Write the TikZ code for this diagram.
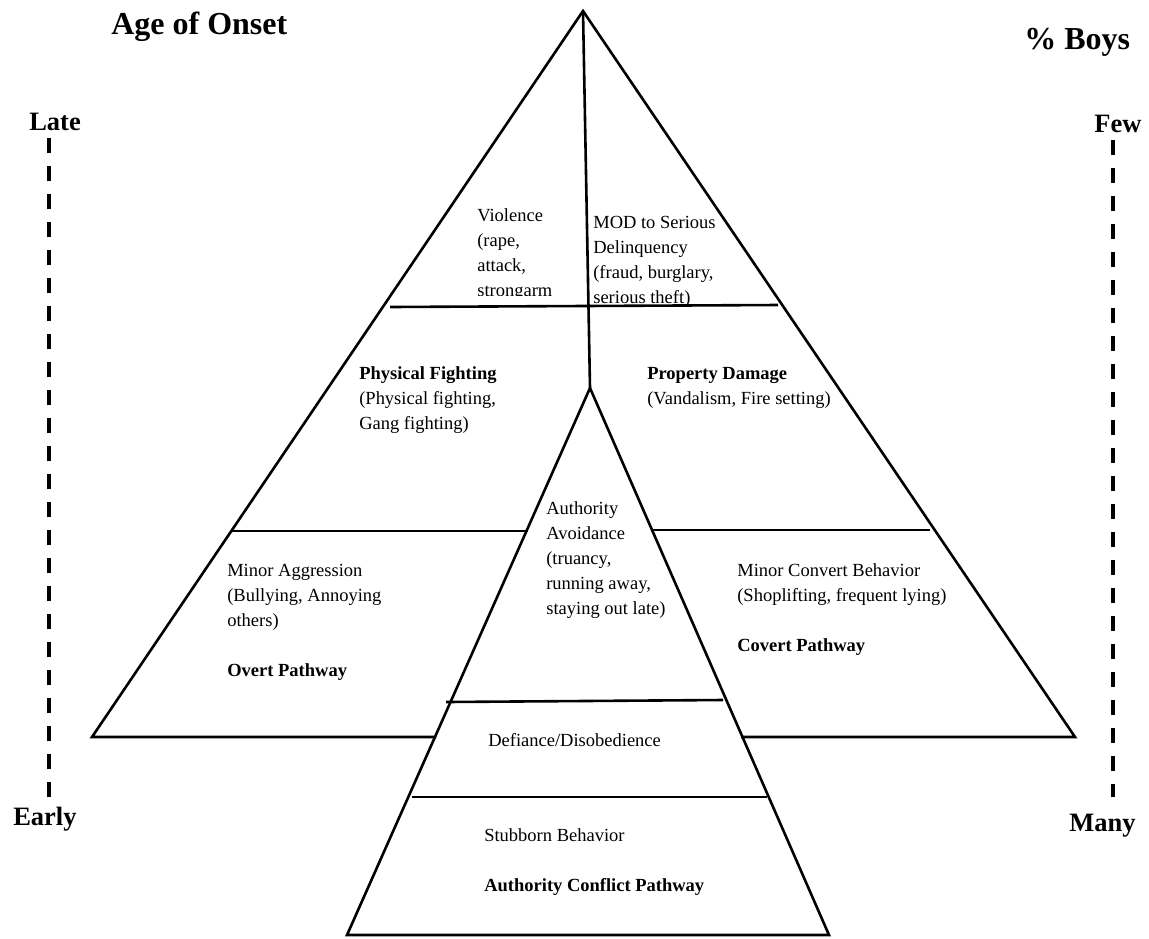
\documentclass[tikz,border=0pt]{standalone}
\usepackage{fontspec}
\setmainfont{Liberation Serif}
\usetikzlibrary{positioning}
\newcommand{\bodysize}{\fontsize{18.5}{25}\selectfont}

\begin{document}
\begin{tikzpicture}[x=1pt,y=-1pt,line width=2.6pt,line join=miter,
  txt/.style={anchor=north west,inner sep=0pt,align=left,font=\bodysize},
  hd/.style={anchor=base west,inner sep=0pt,font=\fontsize{32}{36}\selectfont\bfseries},
  side/.style={anchor=base west,inner sep=0pt,font=\fontsize{26.5}{30}\selectfont\bfseries},
  axisline/.style={line width=4pt,dash pattern=on 15pt off 13pt}]
\useasboundingbox (0,0) rectangle (1149,938);
% headings and scales
\node[hd] (onset) at (110,34) {Age of Onset};
\node[hd] (boys) at (1023,49) {\% Boys};
\node[side] (late) at (28,130) {Late};
\node[side] (early) at (12,825) {Early};
\node[side] (few) at (1093,132) {Few};
\node[side] (many) at (1068,831) {Many};
\coordinate (lateend) at (49,138);
\coordinate (earlyend) at (49,797);
\coordinate (fewend) at (1113,140);
\coordinate (manyend) at (1113,797);
\draw[axisline] (lateend) -- (earlyend);
\draw[axisline] (fewend) -- (manyend);
% big pyramid
\draw (436,737) -- (92,737) -- (583,11) -- (1075,737) -- (741,737);
\draw (583,11) -- (590,388);
\draw (390,307) -- (778,305);
\draw (232,531) -- (528,531);
\draw (651,530) -- (930,530);
% authority conflict pyramid
\draw (347,935) -- (590,388) -- (829,935) -- cycle;
\draw (446,702) -- (723,700);
\draw (412,797) -- (767,797);
% texts
\begin{scope}
\clip (460,190) rectangle (584,295);
\node[txt] (violence) at (476,203) {\strut Violence\\(rape,\\attack,\\strongarm};
\end{scope}
\node[txt] (mod) at (592,210) {\strut MOD to Serious\\Delinquency\\(fraud, burglary,\\serious theft)};
\node[txt] (fight) at (358,361) {\strut\textbf{Physical Fighting}\\(Physical fighting,\\Gang fighting)};
\node[txt] (damage) at (646,361) {\strut\textbf{Property Damage}\\(Vandalism, Fire setting)};
\node[txt] (avoid) at (545,496) {\strut Authority\\Avoidance\\(truancy,\\running away,\\staying out late)};
\node[txt] (minagg) at (226,558) {\strut Minor Aggression\\(Bullying, Annoying\\others)\\[25pt]\textbf{Overt Pathway}};
\node[txt] (mincov) at (736,558) {\strut Minor Convert Behavior\\(Shoplifting, frequent lying)\\[25pt]\textbf{Covert Pathway}};
\node[txt] (defiance) at (487,728) {\strut Defiance/Disobedience};
\node[txt] (stubborn) at (483,823) {\strut Stubborn Behavior\\[25pt]\textbf{Authority Conflict Pathway}};
\end{tikzpicture}
\end{document}
